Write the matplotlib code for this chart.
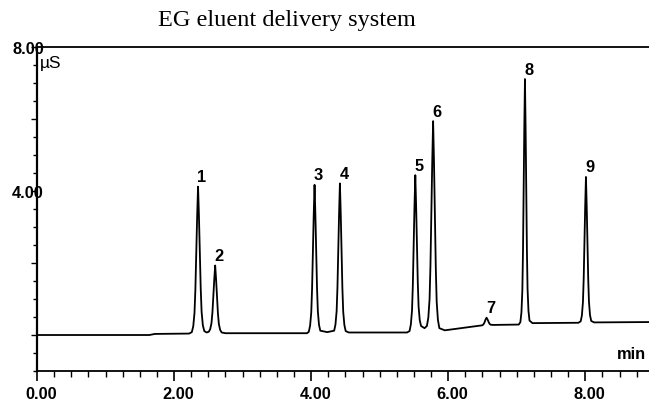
import numpy as np
import matplotlib
matplotlib.use("Agg")
import matplotlib.pyplot as plt
from matplotlib.ticker import MultipleLocator
from matplotlib.transforms import ScaledTranslation

# chromatogram trace (time in min, signal in uS)
TIME = [
    0.00, 1.64, 1.72, 2.22,
    2.259, 2.280, 2.298, 2.311, 2.324, 2.337, 2.350,                 # peak 1
    2.363, 2.376, 2.389, 2.402, 2.420, 2.441, 2.475,
    2.506, 2.527, 2.546, 2.560, 2.573, 2.587, 2.600,                 # peak 2
    2.613, 2.627, 2.640, 2.654, 2.673, 2.695, 2.750,
    3.940, 3.966, 3.985, 4.002, 4.014, 4.026, 4.038, 4.050,          # peak 3
    4.062, 4.074, 4.086, 4.098, 4.115, 4.134, 4.235,
    4.336, 4.355, 4.372, 4.384, 4.396, 4.408, 4.420,                 # peak 4
    4.432, 4.444, 4.456, 4.468, 4.485, 4.504, 4.550,
    5.400, 5.436, 5.455, 5.472, 5.484, 5.496, 5.508, 5.520,          # peak 5
    5.532, 5.544, 5.556, 5.568, 5.585, 5.604, 5.655,
    5.689, 5.710, 5.728, 5.741, 5.754, 5.767, 5.780,                 # peak 6
    5.793, 5.806, 5.819, 5.832, 5.850, 5.871, 5.950,
    6.450, 6.500, 6.516, 6.530, 6.545, 6.560,                        # peak 7
    6.575, 6.590, 6.604, 6.620, 6.660,
    7.030, 7.0535, 7.0687, 7.082, 7.0915, 7.101, 7.1105, 7.120,      # peak 8
    7.1295, 7.139, 7.1485, 7.158, 7.1713, 7.1865, 7.230,
    7.900, 7.933, 7.9506, 7.966, 7.977, 7.988, 7.999, 8.010,         # peak 9
    8.021, 8.032, 8.043, 8.054, 8.0694, 8.087, 8.130,
    8.930,
]
SIGNAL = [
    0.00, 0.00, 0.03, 0.04,
    0.08, 0.24, 0.61, 1.26, 2.28, 3.30, 4.12,
    3.31, 2.30, 1.29, 0.64, 0.27, 0.11, 0.07,
    0.09, 0.16, 0.33, 0.63, 1.09, 1.56, 1.93,
    1.55, 1.07, 0.60, 0.30, 0.14, 0.07, 0.05,
    0.05, 0.09, 0.26, 0.63, 1.30, 2.34, 3.35, 4.17,
    3.35, 2.33, 1.31, 0.66, 0.28, 0.12, 0.08,
    0.12, 0.29, 0.66, 1.32, 2.35, 3.38, 4.21,
    3.38, 2.35, 1.31, 0.65, 0.28, 0.11, 0.07,
    0.07, 0.11, 0.29, 0.68, 1.38, 2.47, 3.57, 4.44,
    3.59, 2.53, 1.48, 0.79, 0.41, 0.25, 0.19,
    0.25, 0.48, 0.99, 1.92, 3.35, 4.79, 5.94,
    4.78, 3.33, 1.87, 0.92, 0.42, 0.19, 0.13,
    0.26, 0.27, 0.30, 0.35, 0.43, 0.48,
    0.43, 0.36, 0.31, 0.285, 0.28,
    0.29, 0.36, 0.63, 1.24, 2.34, 4.04, 5.75, 7.11,
    5.75, 4.06, 2.36, 1.28, 0.67, 0.40, 0.33,
    0.34, 0.38, 0.54, 0.91, 1.56, 2.57, 3.58, 4.39,
    3.58, 2.57, 1.56, 0.92, 0.55, 0.39, 0.35,
    0.36,
]

PEAK_LABELS = ["1", "2", "3", "4", "5", "6", "7", "8", "9"]
PEAK_TIMES = [2.35, 2.60, 4.05, 4.42, 5.52, 5.78, 6.56, 7.12, 8.01]
PEAK_HEIGHTS = [4.12, 1.93, 4.17, 4.21, 4.44, 5.94, 0.48, 7.11, 4.39]

X_TICKS = [0, 2, 4, 6, 8]
X_TICK_LABELS = ["0.00", "2.00", "4.00", "6.00", "8.00"]
Y_TICKS = [0, 2, 4, 6, 8]
Y_TICK_LABELS = ["", "", "4.00", "", "8.00"]

LABEL_FONT = dict(family="Liberation Sans", fontsize=11.8, fontweight="bold")


def main():
    fig = plt.figure(figsize=(6.49, 4.02), dpi=100)
    ax = fig.add_axes([0.057, 0.0746, 0.943, 0.806])

    ax.plot(TIME, SIGNAL, color="black", lw=1.3, solid_joinstyle="round")

    for lab, t, h in zip(PEAK_LABELS, PEAK_TIMES, PEAK_HEIGHTS):
        ax.annotate(lab, (t, h), xytext=(4, 10), textcoords="offset pixels",
                    ha="center", va="center", **LABEL_FONT)

    ax.set_xlim(0, 8.93)
    ax.set_ylim(-1, 8)

    ax.spines["right"].set_visible(False)
    ax.spines["left"].set_linewidth(1.6)
    ax.spines["bottom"].set_linewidth(1.3)
    ax.spines["top"].set_linewidth(1.3)

    ax.set_xticks(X_TICKS)
    ax.set_xticklabels(X_TICK_LABELS, **LABEL_FONT)
    ax.xaxis.set_minor_locator(MultipleLocator(0.25))
    ax.set_yticks(Y_TICKS)
    ax.set_yticklabels(Y_TICK_LABELS, **LABEL_FONT)
    ax.yaxis.set_minor_locator(MultipleLocator(0.5))

    ax.tick_params(axis="x", which="major", direction="out", length=7, width=1.2, pad=4)
    ax.tick_params(axis="x", which="minor", direction="out", length=4, width=1.0)
    ax.tick_params(axis="y", which="major", direction="out", length=4, width=1.0, pad=-9)
    ax.tick_params(axis="y", which="minor", direction="out", length=3, width=1.0)
    ax.tick_params(top=False, right=False, which="both")

    # x labels sit a few pixels right of their ticks in the original
    shift = ScaledTranslation(4 / 100, 0, fig.dpi_scale_trans)
    for lbl in ax.get_xticklabels():
        lbl.set_transform(lbl.get_transform() + shift)

    ax.text(0.004, 0.952, "\u00b5S", transform=ax.transAxes, ha="left", va="center",
            family="Liberation Sans", fontsize=12.5)
    ax.text(0.995, 0.055, "min", transform=ax.transAxes, ha="right", va="center",
            **LABEL_FONT)

    fig.text(0.442, 0.95, "EG eluent delivery system", ha="center", va="center",
             family="Liberation Serif", fontsize=17.5)

    fig.savefig("out.png", dpi=100)
    plt.close(fig)


if __name__ == "__main__":
    main()
